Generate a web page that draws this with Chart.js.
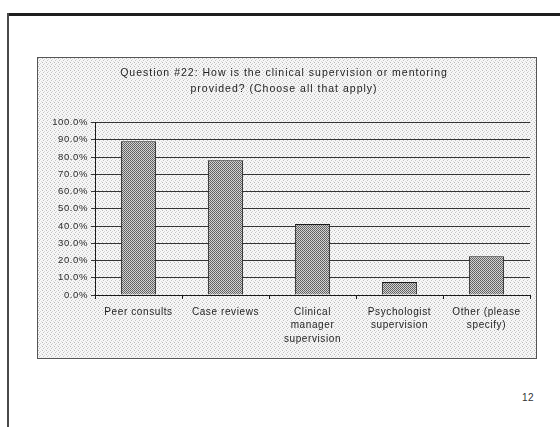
<!DOCTYPE html>
<html>
<head>
<meta charset="utf-8">
<script src="https://cdn.jsdelivr.net/npm/chart.js@4/dist/chart.umd.min.js"></script>
<style>
  html, body { margin: 0; padding: 0; background: #fff; }
  body { width: 560px; height: 427px; position: relative; overflow: hidden; font-family: "Liberation Sans", Arial, sans-serif; }
  #topline { position: absolute; left: 8px; top: 13px; width: 552px; height: 3px; background: #1e1e1e; }
  #leftline { position: absolute; left: 7px; top: 13px; width: 2px; height: 414px; background: #4a4a4a; }
  #box { position: absolute; left: 37px; top: 57px; width: 500px; height: 302px; box-sizing: border-box; border: 1px solid #555; }
  #box canvas { display: block; }
  #pagenum { position: absolute; left: 522px; top: 392px; font-size: 10px; color: #333; letter-spacing: 0.5px; }
</style>
</head>
<body>
<div id="topline"></div>
<div id="leftline"></div>
<div id="box"><canvas id="c" width="498" height="300"></canvas></div>
<div id="pagenum">12</div>
<script>
const titleLines = ["Question #22: How is the clinical supervision or mentoring", "provided? (Choose all that apply)"];
const categories = [["Peer consults"], ["Case reviews"], ["Clinical", "manager", "supervision"], ["Psychologist", "supervision"], ["Other (please", "specify)"]];
const values = [89.2, 78.1, 41.2, 7.6, 22.4];
const yTicks = [0, 10, 20, 30, 40, 50, 60, 70, 80, 90, 100];

function makePattern(size, pixels, bg) {
  const pc = document.createElement('canvas');
  pc.width = size; pc.height = size;
  const g = pc.getContext('2d');
  g.fillStyle = bg; g.fillRect(0, 0, size, size);
  pixels.forEach(p => { g.fillStyle = p[2]; g.fillRect(p[0], p[1], 1, 1); });
  return g.createPattern(pc, 'repeat');
}
const ctx0 = document.getElementById('c').getContext('2d');
const bgPattern = makePattern(4, [[0,0,'#b8b8b8'],[2,1,'#d4d4d4'],[1,2,'#c4c4c4'],[3,3,'#dcdcdc']], '#f7f7f7');
const barPattern = makePattern(2, [[0,0,'#5a5a5a'],[1,1,'#6a6a6a'],[1,0,'#d8d8d8'],[0,1,'#cfcfcf']], '#888');

const spacing = {
  id: 'spacing',
  beforeInit(chart) { chart.ctx.letterSpacing = '0.6px'; },
  beforeUpdate(chart) { chart.ctx.letterSpacing = '0.6px'; },
  beforeDraw(chart) {
    const c = chart.ctx;
    c.save();
    c.fillStyle = bgPattern;
    c.fillRect(0, 0, chart.width, chart.height);
    c.restore();
    c.letterSpacing = '0.6px';
    const tb = chart.titleBlock;
    if (tb && !tb._wrapped) {
      const orig = tb.draw.bind(tb);
      tb.draw = function (...a) {
        c.save();
        c.letterSpacing = '1px';
        orig(...a);
        c.restore();
      };
      tb._wrapped = true;
    }
  }
};

new Chart(ctx0, {
  type: 'bar',
  data: {
    labels: categories,
    datasets: [{
      data: values,
      backgroundColor: barPattern,
      borderColor: '#1a1a1a',
      borderWidth: 1,
      barPercentage: 0.405,
      categoryPercentage: 1
    }]
  },
  options: {
    responsive: false,
    animation: false,
    layout: { padding: { left: 0, right: 6, top: 0, bottom: 0 } },
    plugins: {
      legend: { display: false },
      tooltip: { enabled: false },
      title: {
        display: true,
        text: titleLines,
        color: '#1e1e1e',
        font: { family: '"Liberation Sans", Arial, sans-serif', size: 10.5, weight: 'normal', lineHeight: 1.55 },
        padding: { top: 7, bottom: 25 }
      }
    },
    scales: {
      x: {
        offset: true,
        grid: { offset: true, drawOnChartArea: false, color: '#1a1a1a', tickLength: 4, lineWidth: 1 },
        border: { color: '#1a1a1a', width: 1 },
        ticks: {
          color: '#1e1e1e',
          maxRotation: 0,
          autoSkip: false,
          padding: 6,
          font: { family: '"Liberation Sans", Arial, sans-serif', size: 10, lineHeight: 1.35 }
        },
        afterFit(s) { s.height = 63; }
      },
      y: {
        min: 0,
        max: 100,
        afterBuildTicks(s) { s.ticks = yTicks.map(v => ({ value: v })); },
        grid: { color: '#333', lineWidth: 1, tickLength: 4 },
        border: { color: '#1a1a1a', width: 1 },
        ticks: {
          color: '#2a2a2a',
          padding: 3,
          font: { family: '"Liberation Sans", Arial, sans-serif', size: 9.5 },
          callback: v => v.toFixed(1) + '%'
        },
        afterFit(s) { s.width = 57; }
      }
    }
  },
  plugins: [spacing]
});
</script>
</body>
</html>
